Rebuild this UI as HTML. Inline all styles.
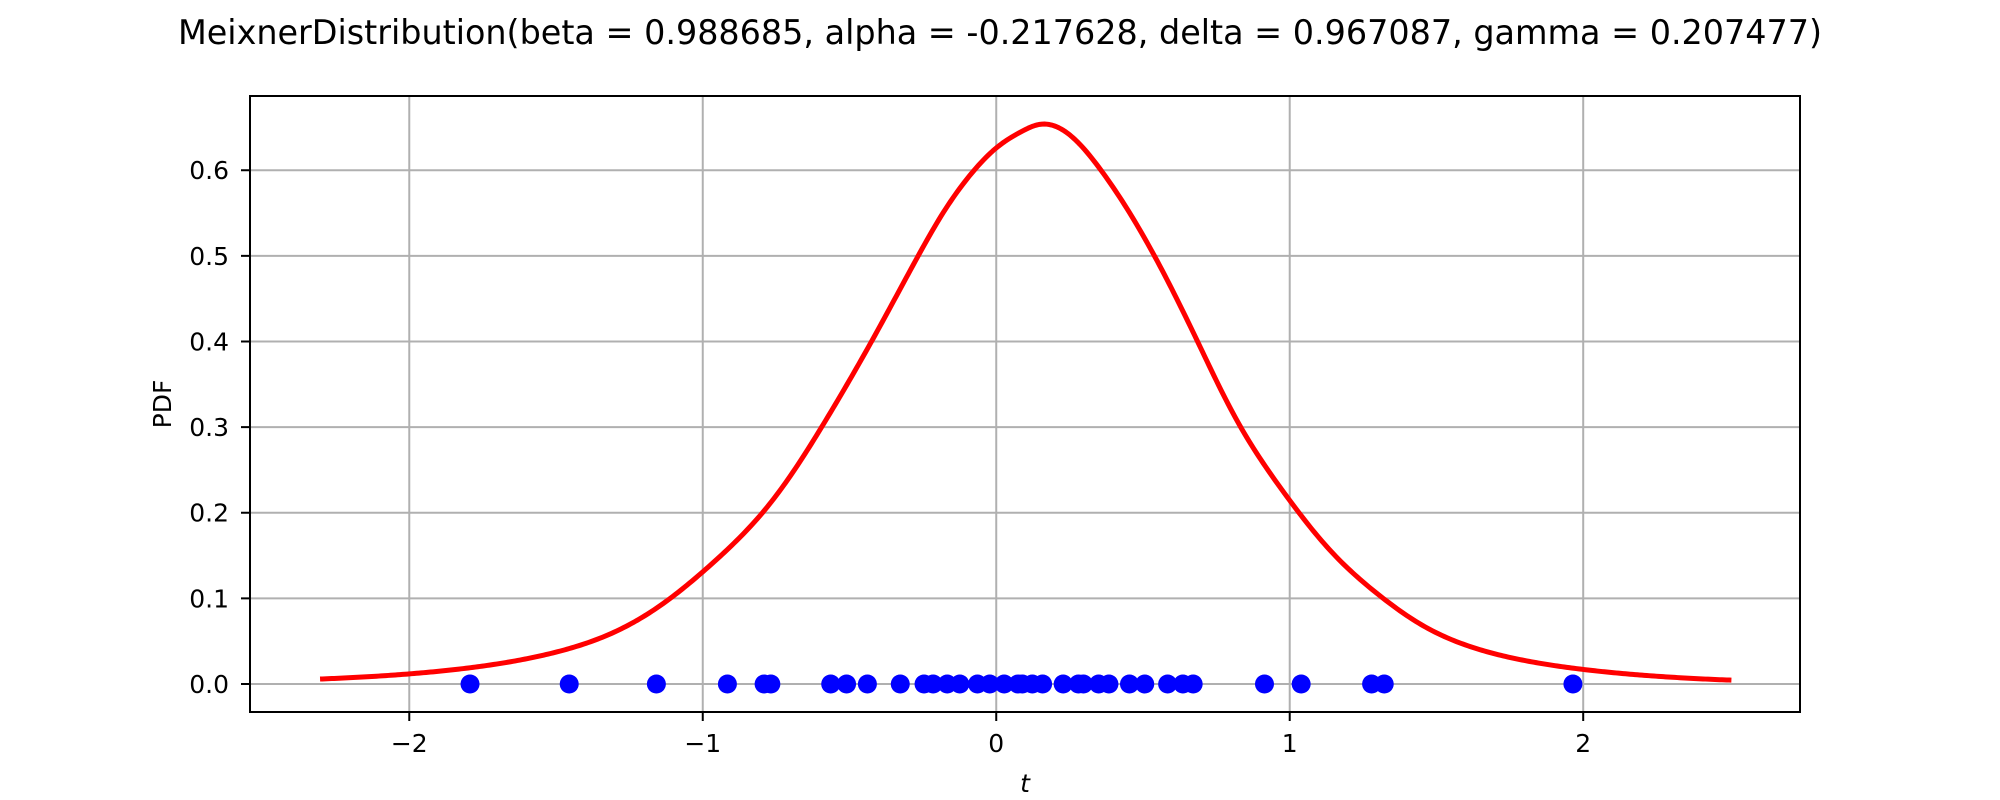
<!DOCTYPE html>
<html><head><meta charset="utf-8"><style>
html,body{margin:0;padding:0;background:#fff;}
svg{display:block;font-family:"DejaVu Sans","Liberation Sans",sans-serif;}
</style></head><body>
<svg id="chart" width="2000" height="800" viewBox="0 0 2000 800" xmlns="http://www.w3.org/2000/svg">
<rect x="0" y="0" width="2000" height="800" fill="#fff"/>
<text x="1000" y="44" font-size="33.4" text-anchor="middle">MeixnerDistribution(beta = 0.988685, alpha = -0.217628, delta = 0.967087, gamma = 0.207477)</text>
<g id="grid"></g>
<g id="plot"></g>
<rect x="250" y="96" width="1550" height="616" fill="none" stroke="#000" stroke-width="2"/>
<g id="ticks"></g>
<text x="1025" y="792" font-size="25" font-style="italic" text-anchor="middle">t</text>
<text x="0" y="0" font-size="25" text-anchor="middle" transform="translate(171,404) rotate(-90)">PDF</text>
</svg>
<script>
const curveT = [-2.304,-2.0,-1.757,-1.514,-1.332,-1.139,-1.0,-0.799,-0.595,-0.425,-0.266,-0.187,-0.085,0.0,0.085,0.147,0.244,0.357,0.539,0.686,0.833,1.0,1.16,1.33,1.487,1.669,2.0,2.275,2.505];
const curvePDF = [0.0058,0.0118,0.0206,0.036,0.056,0.093,0.131,0.199,0.300,0.400,0.500,0.547,0.596,0.626,0.645,0.6535,0.643,0.600,0.500,0.400,0.300,0.2144,0.148,0.097,0.062,0.038,0.017,0.0085,0.0045];
const sampleT = [-1.793,-1.455,-1.158,-0.916,-0.791,-0.768,-0.564,-0.510,-0.439,-0.327,-0.246,-0.215,-0.167,-0.124,-0.064,-0.022,0.027,0.074,0.089,0.123,0.158,0.228,0.280,0.297,0.349,0.384,0.454,0.506,0.584,0.636,0.671,0.914,1.039,1.279,1.322,1.965];
const xTicks = [-2,-1,0,1,2];
const xTickLabels = ["\u22122","\u22121","0","1","2"];
const yTicks = [0,0.1,0.2,0.3,0.4,0.5,0.6];
const yTickLabels = ["0.0","0.1","0.2","0.3","0.4","0.5","0.6"];

const L=250,R=1800,T=96,B=712;
const xMin=-2.5427,xMax=2.7387,yMin=-0.0327,yMax=0.6867;
const sx=v=>L+(v-xMin)/(xMax-xMin)*(R-L);
const sy=v=>B-(v-yMin)/(yMax-yMin)*(B-T);
const NS="http://www.w3.org/2000/svg";
function mk(tag,attrs,parent){const e=document.createElementNS(NS,tag);for(const k in attrs)e.setAttribute(k,attrs[k]);parent.appendChild(e);return e;}
const grid=document.getElementById('grid'),plot=document.getElementById('plot'),ticks=document.getElementById('ticks');

xTicks.forEach((v,i)=>{
  const g=mk('line',{x1:sx(v),x2:sx(v),y1:T,y2:B,stroke:'#b0b0b0','stroke-width':2},grid);
  
  
  const t=mk('line',{x1:sx(v),x2:sx(v),y1:B,y2:B+9,stroke:'#000','stroke-width':2},ticks);
  
  
  const lb=mk('text',{x:sx(v),y:752,'font-size':25,'text-anchor':'middle'},ticks);
  lb.textContent=xTickLabels[i];
  
  
});
yTicks.forEach((v,i)=>{
  const g=mk('line',{x1:L,x2:R,y1:sy(v),y2:sy(v),stroke:'#b0b0b0','stroke-width':2},grid);
  
  
  const t=mk('line',{x1:L-9,x2:L,y1:sy(v),y2:sy(v),stroke:'#000','stroke-width':2},ticks);
  
  
  const lb=mk('text',{x:229,y:sy(v)+9,'font-size':25,'text-anchor':'end'},ticks);
  lb.textContent=yTickLabels[i];
  
  
});
// natural cubic spline through log(pdf), sampled densely
const n=curveT.length;
const X=curveT, Y=curvePDF.map(v=>Math.log(v));
const h=[],al=[0],l=[1],mu=[0],z=[0],c=new Array(n).fill(0),b=[],dd=[];
for(let i=0;i<n-1;i++)h.push(X[i+1]-X[i]);
for(let i=1;i<n-1;i++)al.push(3/h[i]*(Y[i+1]-Y[i])-3/h[i-1]*(Y[i]-Y[i-1]));
for(let i=1;i<n-1;i++){l[i]=2*(X[i+1]-X[i-1])-h[i-1]*mu[i-1];mu[i]=h[i]/l[i];z[i]=(al[i]-h[i-1]*z[i-1])/l[i];}
l[n-1]=1;z[n-1]=0;
for(let j=n-2;j>=0;j--){c[j]=z[j]-mu[j]*c[j+1];b[j]=(Y[j+1]-Y[j])/h[j]-h[j]*(c[j+1]+2*c[j])/3;dd[j]=(c[j+1]-c[j])/(3*h[j]);}
function f(t){let j=0;while(j<n-2&&t>X[j+1])j++;const u=t-X[j];return Math.exp(Y[j]+b[j]*u+c[j]*u*u+dd[j]*u*u*u);}
let d='';
const steps=600;
for(let k=0;k<=steps;k++){
  const t=X[0]+(X[n-1]-X[0])*k/steps;
  d+=(k?' L':'M')+sx(t).toFixed(2)+','+sy(f(t)).toFixed(2);
}
const line=mk('path',{d:d,fill:'none',stroke:'#ff0000','stroke-width':5,'stroke-linejoin':'round'},plot);


sampleT.forEach(t=>{
  const cc=mk('ellipse',{cx:sx(t),cy:sy(0),rx:9.5,ry:9.5,fill:'#0000ff'},plot);
  
  
});
</script>
</body></html>
